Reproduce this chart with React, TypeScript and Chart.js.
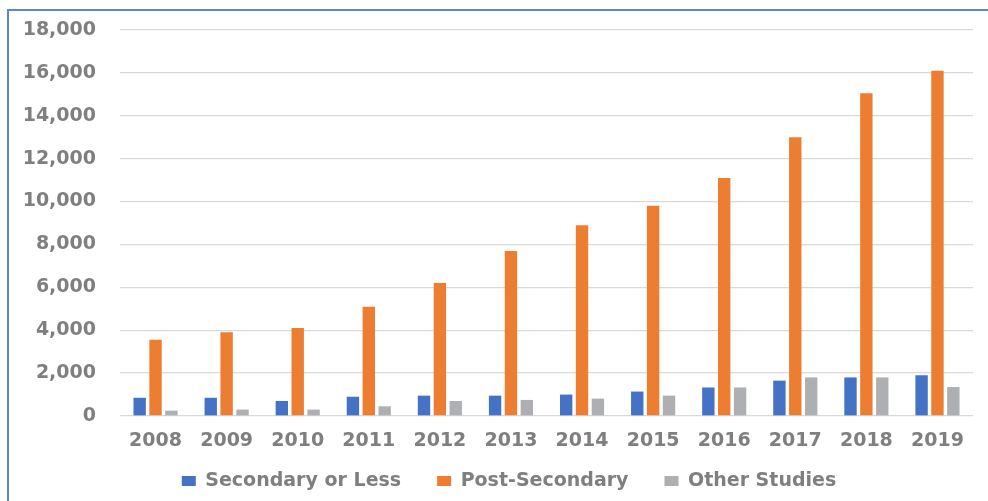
import React, { useEffect, useRef } from "react";
import { Chart, registerables } from "chart.js";

Chart.register(...registerables);

const years = ["2008", "2009", "2010", "2011", "2012", "2013", "2014", "2015", "2016", "2017", "2018", "2019"];
const secondaryOrLess = [850, 850, 700, 900, 950, 950, 1000, 1140, 1330, 1650, 1800, 1900];
const postSecondary = [3550, 3900, 4100, 5100, 6200, 7700, 8900, 9800, 11100, 13000, 15050, 16100];
const otherStudies = [250, 300, 300, 450, 700, 750, 810, 950, 1330, 1800, 1800, 1350];
const yTicks = [0, 2000, 4000, 6000, 8000, 10000, 12000, 14000, 16000, 18000];

const TEXT = "#7f7f7f";
const FONT = "'DejaVu Sans', sans-serif";

export default function App() {
  const ref = useRef<HTMLCanvasElement | null>(null);

  useEffect(() => {
    if (!ref.current) return;
    const chart = new Chart(ref.current, {
      type: "bar",
      data: {
        labels: years,
        datasets: [
          { label: "Secondary or Less", data: secondaryOrLess, backgroundColor: "#4472C4" },
          { label: "Post-Secondary", data: postSecondary, backgroundColor: "#ED7D31" },
          { label: "Other Studies", data: otherStudies, backgroundColor: "#AEAFB2" },
        ],
      },
      options: {
        animation: false,
        responsive: false,
        maintainAspectRatio: false,
        layout: { padding: { left: 15, right: 0, top: 30, bottom: 0.5 } },
        datasets: { bar: { categoryPercentage: 0.67, barPercentage: 0.78 } },
        scales: {
          x: {
            grid: { display: false, drawTicks: false },
            border: { display: false },
            ticks: { color: TEXT, font: { family: FONT, size: 19, weight: "bold" }, padding: 13.6 },
          },
          y: {
            min: 0,
            max: 18000,
            afterBuildTicks: (scale: any) => {
              scale.ticks = yTicks.map((v) => ({ value: v }));
            },
            afterFit: (scale: any) => {
              scale.width = 105;
            },
            grid: { color: "#d9d9d9", lineWidth: 1.3, drawTicks: false },
            border: { display: false },
            ticks: {
              color: TEXT,
              font: { family: FONT, size: 19, weight: "bold", lineHeight: 0.6 },
              padding: 24,
              callback: (v: any) => Number(v).toLocaleString("en-US"),
            },
          },
          yRight: {
            position: "right",
            display: true,
            grid: { display: false, drawTicks: false },
            border: { display: false },
            ticks: { display: false },
            afterFit: (scale: any) => {
              scale.width = 30;
            },
          },
        },
        plugins: {
          tooltip: { enabled: false },
          legend: {
            position: "bottom",
            title: { display: true, text: "", font: { size: 10 }, padding: { top: 0, bottom: -42.5 } },
            labels: {
              color: TEXT,
              font: { family: FONT, size: 19, weight: "bold" },
              boxWidth: 14,
              boxHeight: 10,
              padding: 36,
            },
          },
        },
      },
    });
    return () => chart.destroy();
  }, []);

  return (
    <div style={{ position: "absolute", left: 0, top: 0, width: 988, height: 501, overflow: "hidden", background: "#fff" }}>
      <canvas ref={ref} width={1003} height={501} style={{ position: "absolute", left: 0, top: 0, width: 1003, height: 501 }} />
      <div
        style={{
          position: "absolute",
          left: 7,
          top: 9,
          width: 1000,
          height: 520,
          border: "2px solid #5b87cc",
          boxSizing: "border-box",
          pointerEvents: "none",
        }}
      />
    </div>
  );
}
